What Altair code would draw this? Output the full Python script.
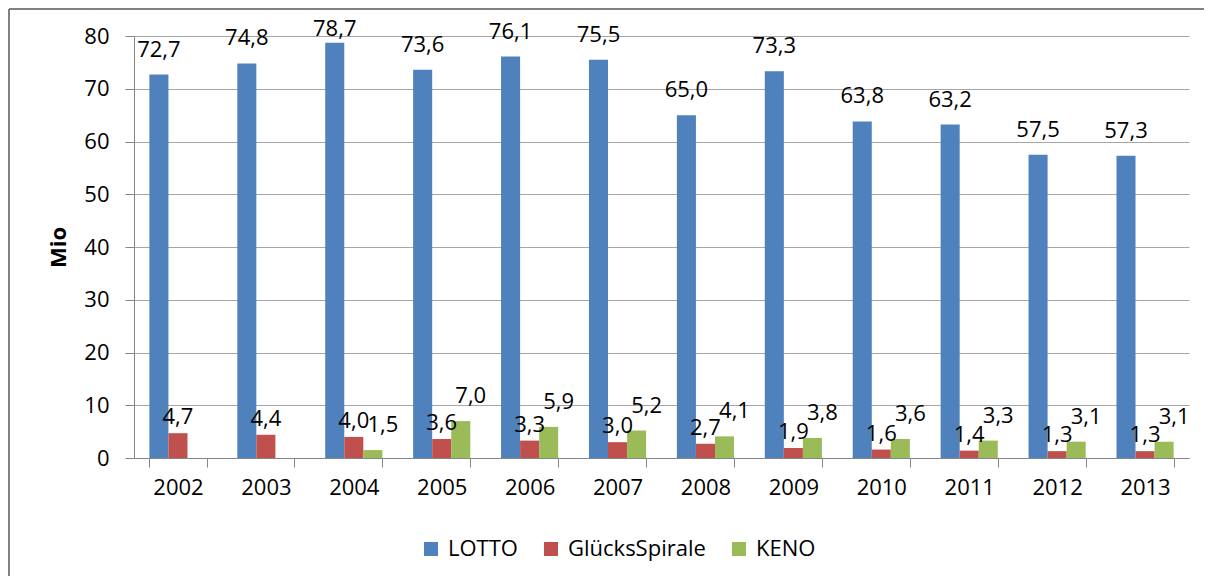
import altair as alt
import pandas as pd

years = ["2002", "2003", "2004", "2005", "2006", "2007", "2008", "2009", "2010", "2011", "2012", "2013"]
series_names = ["LOTTO", "GlücksSpirale", "KENO"]
lotto = [72.7, 74.8, 78.7, 73.6, 76.1, 75.5, 65.0, 73.3, 63.8, 63.2, 57.5, 57.3]
gluecksspirale = [4.7, 4.4, 4.0, 3.6, 3.3, 3.0, 2.7, 1.9, 1.6, 1.4, 1.3, 1.3]
keno = [None, None, 1.5, 7.0, 5.9, 5.2, 4.1, 3.8, 3.6, 3.3, 3.1, 3.1]
colors = ["#4F81BD", "#C0504D", "#9BBB59"]

rows = []
for name, vals in zip(series_names, [lotto, gluecksspirale, keno]):
    for y, v in zip(years, vals):
        if v is not None:
            rows.append({"year": y, "series": name, "value": v})
df = pd.DataFrame(rows)

FONT = "Open Sans"

x_enc = alt.X("year:N", sort=years,
              scale=alt.Scale(paddingInner=0.35, paddingOuter=0.175),
              axis=alt.Axis(title=None, labelAngle=0, tickBand="extent", tickSize=9,
                            labelPadding=10, grid=False))
xoff_enc = alt.XOffset("series:N", sort=series_names,
                       scale=alt.Scale(domain=series_names, paddingInner=0, paddingOuter=0))
y_scale = alt.Scale(domain=[0, 80], nice=False)

base = alt.Chart(df)

bars = base.mark_bar().encode(
    x=x_enc,
    xOffset=xoff_enc,
    y=alt.Y("value:Q", scale=y_scale,
            axis=alt.Axis(values=[0, 10, 20, 30, 40, 50, 60, 70, 80], tickSize=9, labelPadding=16,
                          title="Mio", titleFontWeight="bold", titleFontSize=22, titleFont=FONT,
                          titleX=-76, titleY=211, titleAlign="center", titleBaseline="middle",
                          titleAngle=270, grid=True)),
    color=alt.Color("series:N", sort=series_names,
                    scale=alt.Scale(domain=series_names, range=colors),
                    legend=alt.Legend(title=None, orient="none", legendX=286, legendY=502,
                                      direction="horizontal", symbolType="square",
                                      symbolSize=196, symbolStrokeWidth=0,
                                      labelFont=FONT, labelFontSize=22, labelColor="#000000",
                                      labelOffset=6, columnPadding=22)),
)

def labels(series, dx, dy):
    return base.transform_filter(
        alt.datum.series == series
    ).transform_calculate(
        label="replace(format(datum.value, '.1f'), '.', ',')",
        ly="min(datum.value, 76.6)",
    ).mark_text(font=FONT, fontSize=22, color="#000000", baseline="alphabetic",
                dx=dx, dy=dy).encode(
        x=x_enc,
        xOffset=xoff_enc,
        y=alt.Y("ly:Q", scale=y_scale),
        text="label:N",
    )

t1 = labels("LOTTO", 0, -18)
t2 = labels("GlücksSpirale", 0, -9)
t3 = labels("KENO", 10, -18)

bdf = pd.DataFrame({"a": [0]})
border_top = alt.Chart(bdf).mark_rule(color="#808080", strokeWidth=2).encode(
    x=alt.value(-125), x2=alt.value(1070), y=alt.value(-27))
border_left = alt.Chart(bdf).mark_rule(color="#808080", strokeWidth=2).encode(
    x=alt.value(-125), x2=alt.value(-125), y=alt.value(-27), y2=alt.value(540))

chart = alt.layer(bars, t1, t2, t3, border_top, border_left).properties(
    width=1055, height=422,
    autosize=alt.AutoSizeParams(type="none"),
    padding={"left": 126, "top": 28, "right": 15, "bottom": 118},
    background="white",
).configure_view(stroke=None).configure_axis(
    labelFont=FONT, labelFontSize=22, labelColor="#000000",
    domainColor="#868686", tickColor="#868686", gridColor="#a6a6a6",
    domainWidth=1, tickWidth=1, gridWidth=1,
)

chart.save("out.html", embed_options={"renderer": "svg", "actions": False})
